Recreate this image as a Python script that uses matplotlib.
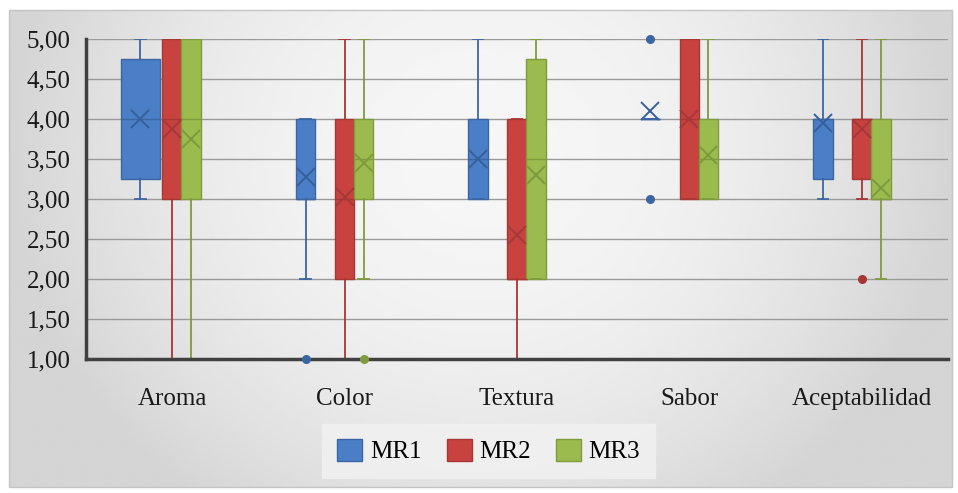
import numpy as np
import matplotlib
matplotlib.use("Agg")
import matplotlib.pyplot as plt
from matplotlib.patches import Patch, Rectangle

categories = ["Aroma", "Color", "Textura", "Sabor", "Aceptabilidad"]
series = ["MR1", "MR2", "MR3"]
yticks = [1.0, 1.5, 2.0, 2.5, 3.0, 3.5, 4.0, 4.5, 5.0]

# per series: lower whisker, Q1, median, Q3, upper whisker, mean, outliers
mr1_lo = [3.0, 2.0, 3.0, 4.0, 3.0]
mr1_q1 = [3.25, 3.0, 3.0, 4.0, 3.25]
mr1_med = [4.0, 3.0, 3.5, 4.0, 4.0]
mr1_q3 = [4.75, 4.0, 4.0, 4.0, 4.0]
mr1_hi = [5.0, 4.0, 5.0, 4.0, 5.0]
mr1_mean = [4.0, 3.28, 3.5, 4.1, 3.95]
mr1_out = [[], [1.0], [], [3.0, 5.0], []]

mr2_lo = [1.0, 1.0, 1.0, 3.0, 3.0]
mr2_q1 = [3.0, 2.0, 2.0, 3.0, 3.25]
mr2_med = [4.0, 3.0, 2.0, 4.0, 4.0]
mr2_q3 = [5.0, 4.0, 4.0, 5.0, 4.0]
mr2_hi = [5.0, 5.0, 4.0, 5.0, 5.0]
mr2_mean = [3.87, 3.03, 2.55, 4.0, 3.87]
mr2_out = [[], [], [], [], [2.0]]

mr3_lo = [1.0, 2.0, 2.0, 3.0, 2.0]
mr3_q1 = [3.0, 3.0, 2.0, 3.0, 3.0]
mr3_med = [4.0, 3.5, 3.5, 3.5, 3.0]
mr3_q3 = [5.0, 4.0, 4.75, 4.0, 4.0]
mr3_hi = [5.0, 5.0, 5.0, 5.0, 5.0]
mr3_mean = [3.75, 3.45, 3.3, 3.55, 3.14]
mr3_out = [[], [1.0], [], [], []]

data = [
    (mr1_lo, mr1_q1, mr1_med, mr1_q3, mr1_hi, mr1_mean, mr1_out),
    (mr2_lo, mr2_q1, mr2_med, mr2_q3, mr2_hi, mr2_mean, mr2_out),
    (mr3_lo, mr3_q1, mr3_med, mr3_q3, mr3_hi, mr3_mean, mr3_out),
]

faces = ["#4A7EC6", "#C8423F", "#9BBB4E"]
edges = ["#3B66A3", "#A83633", "#7E9B3D"]
marks = ["#36609A", "#A5383A", "#7D9A3C"]
offsets = [-0.226, 0.0, 0.11]
bw = 0.113

plt.rcParams["font.family"] = ["Liberation Serif", "DejaVu Serif"]

fig = plt.figure(figsize=(9.58, 4.93), dpi=100)

# background gradient of the chart area
bg = fig.add_axes([0, 0, 1, 1], zorder=-10)
gx, gy = np.meshgrid(np.linspace(0, 1, 300), np.linspace(0, 1, 160))
r2 = np.minimum(1, ((gx - 0.5) / 0.5) ** 2 + ((gy - 0.3) / 0.9) ** 2)
shade = 0.965 - 0.13 * r2
bg.imshow(shade, cmap="gray", vmin=0, vmax=1, aspect="auto",
          extent=[9 / 958, 952 / 958, 1 - 487 / 493, 1 - 10 / 493],
          origin="upper", interpolation="bilinear")
bg.add_patch(Rectangle((9 / 958, 1 - 487 / 493), 943 / 958, 477 / 493,
                       fill=False, edgecolor="#c4c4c4", lw=1))
bg.set_xlim(0, 1)
bg.set_ylim(0, 1)
bg.axis("off")

ax = fig.add_axes([86 / 958, 1 - 359 / 493, 862 / 958, 320 / 493])
ax.patch.set_alpha(0)

for s, (lo, q1, med, q3, hi, mean, out) in enumerate(data):
    stats = []
    pos = []
    wid = []
    for i in range(len(categories)):
        stats.append(dict(whislo=lo[i], q1=q1[i], med=med[i], q3=q3[i],
                          whishi=hi[i], mean=mean[i], fliers=out[i]))
        if s == 0 and i == 0:
            # Aroma MR1 box is drawn wider in the original
            pos.append(i + 0.5 - 0.184)
            wid.append(0.222)
        else:
            pos.append(i + 0.5 + offsets[s])
            wid.append(bw)
    art = ax.bxp(stats, positions=pos, widths=wid, patch_artist=True,
                 showmeans=True, showfliers=True, capwidths=0.06,
                 boxprops=dict(facecolor=faces[s], edgecolor=edges[s], lw=1),
                 whiskerprops=dict(color=edges[s], lw=1.3),
                 capprops=dict(color=edges[s], lw=1.3),
                 medianprops=dict(color=edges[s], lw=1),
                 meanprops=dict(marker="x", markeredgecolor=marks[s],
                                markersize=13, markeredgewidth=1.4),
                 flierprops=dict(marker="o", markerfacecolor=edges[s],
                                 markeredgecolor=edges[s], markersize=5.5))
    for f in art["fliers"]:
        f.set_clip_on(False)
        f.set_zorder(5)

ax.set_xlim(0, 5)
ax.set_ylim(1, 5)
ax.set_xticks(np.arange(len(categories)) + 0.5)
ax.set_xticklabels(categories)
ax.set_yticks(yticks)
ax.set_yticklabels([f"{v:.2f}".replace(".", ",") for v in yticks])
ax.tick_params(axis="both", length=0, labelsize=18, colors="#1a1a1a")
ax.tick_params(axis="y", pad=11)
ax.tick_params(axis="x", pad=21)
ax.yaxis.grid(True, color="#9a9a9a", lw=1)
ax.set_axisbelow(True)
for sp in ["top", "right"]:
    ax.spines[sp].set_visible(False)
for sp in ["left", "bottom"]:
    ax.spines[sp].set_color("#404040")
    ax.spines[sp].set_linewidth(2.5)

handles = [Patch(facecolor=faces[k], edgecolor=edges[k]) for k in range(3)]
leg = fig.legend(handles, series, loc="center", bbox_to_anchor=(0.51, 0.085),
                 ncol=3, frameon=True, fontsize=18, handlelength=1.0,
                 handleheight=1.0, handletextpad=0.3, columnspacing=1.0,
                 borderpad=0.6, fancybox=False)
leg.get_frame().set_facecolor("#f2f2f2")
leg.get_frame().set_edgecolor("#f2f2f2")

fig.savefig("out.png", dpi=100)
